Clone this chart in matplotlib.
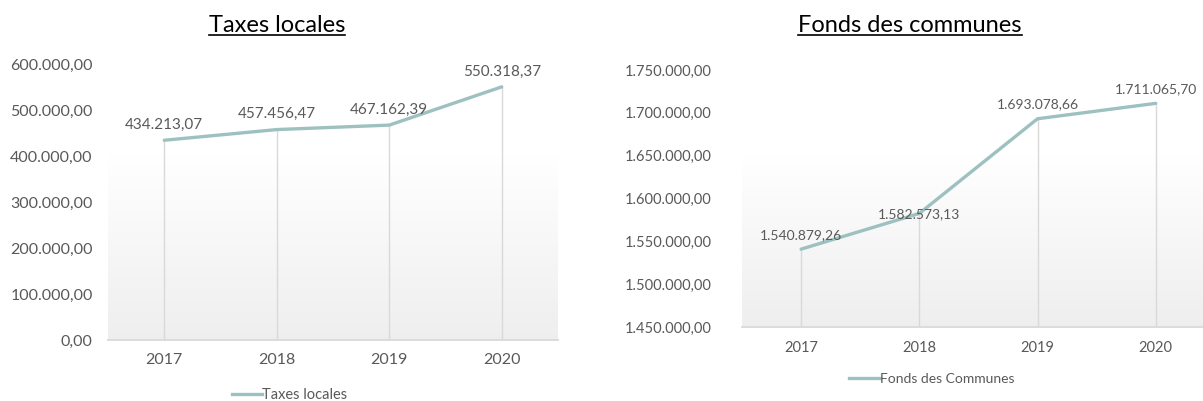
import numpy as np
import matplotlib
matplotlib.use("Agg")
from matplotlib import pyplot as plt
from matplotlib.lines import Line2D

years = ["2017", "2018", "2019", "2020"]
taxes = [434213.07, 457456.47, 467162.39, 550318.37]
fonds = [1540879.26, 1582573.13, 1693078.66, 1711065.70]

taxes_ticks = [0, 100000, 200000, 300000, 400000, 500000, 600000]
fonds_ticks = [1450000, 1500000, 1550000, 1600000, 1650000, 1700000, 1750000]

plt.rcParams['font.family'] = ['Lato', 'DejaVu Sans']

W, H = 1203, 401
LINE = '#9dc1c0'
TXT = '#595959'
GRID = '#d9d9d9'


def eu(v):
    s = '{:,.2f}'.format(v)
    return s.replace(',', 'X').replace('.', ',').replace('X', '.')


def px_axes(fig, x0, x1, ytop, ybot):
    return fig.add_axes([x0 / W, (H - ybot) / H, (x1 - x0) / W, (ybot - ytop) / H])


def gradient(ax, xlim, ylim):
    t = np.linspace(0, 1, 256)
    g = 1 - np.clip((t - 0.33) / 0.67, 0, 1) * 0.065
    img = np.dstack([g, g, g]).reshape(256, 1, 3).repeat(2, axis=1)
    ax.imshow(img, extent=[xlim[0], xlim[1], ylim[0], ylim[1]], aspect='auto',
              zorder=0, interpolation='bilinear')


def draw(ax, vals, ticks, xlim, ylim, tsize, lsize, ypad, xpad, loff):
    x = np.arange(len(years))
    gradient(ax, xlim, ylim)
    ax.vlines(x, ylim[0], vals, color=GRID, lw=1, zorder=1)
    ax.plot(x, vals, color=LINE, lw=2.4, zorder=3, solid_capstyle='round')
    for xi, v in zip(x, vals):
        ax.annotate(eu(v), (xi, v), xytext=(0, loff), textcoords='offset points',
                    ha='center', va='bottom', fontsize=lsize, color=TXT, zorder=4)
    ax.set_xlim(*xlim)
    ax.set_ylim(*ylim)
    ax.set_xticks(x)
    ax.set_xticklabels(years)
    ax.set_yticks(ticks)
    ax.set_yticklabels([eu(t) for t in ticks])
    ax.tick_params(length=0, labelsize=tsize, labelcolor=TXT)
    ax.tick_params(axis='y', pad=ypad)
    ax.tick_params(axis='x', pad=xpad)
    for s in ['top', 'left', 'right']:
        ax.spines[s].set_visible(False)
    ax.spines['bottom'].set_color(GRID)
    ax.spines['bottom'].set_linewidth(1.3)
    ax.set_facecolor('white')


fig = plt.figure(figsize=(W / 100, H / 100), dpi=100)

ax1 = px_axes(fig, 108, 558, 64, 340)
draw(ax1, taxes, taxes_ticks, (-0.5, 3.5), (0, 600000), 11.5, 11, 11, 9, 6)

ax2 = px_axes(fig, 742, 1203, 70, 327)
draw(ax2, fonds, fonds_ticks, (-0.5, 3.4), (1450000, 1750000), 10.5, 10, 22, 10, 6)
# the 2018 label sits on the line in the original
ax2.texts[1].set_position((0, -5))

titles = [("Taxes locales", 277), ("Fonds des communes", 910)]
tobjs = []
for t, xc in titles:
    tobjs.append(fig.text(xc / W, 1 - 25 / H, t, ha='center', va='center',
                          fontsize=17, color='black'))
fig.canvas.draw()
r = fig.canvas.get_renderer()
for tt in tobjs:
    bb = tt.get_window_extent(r)
    yy = (bb.y0 + 1) / H
    fig.add_artist(Line2D([bb.x0 / W, bb.x1 / W], [yy, yy], color='black', lw=1.2))

h = [Line2D([0], [0], color=LINE, lw=2.4)]
fig.legend(h, ["Taxes locales"], loc='center', bbox_to_anchor=(290 / W, 1 - 395 / H),
           frameon=False, fontsize=10.5, labelcolor=TXT, handlelength=2.0,
           handletextpad=0.05)
fig.legend(h, ["Fonds des Communes"], loc='center', bbox_to_anchor=(932 / W, 1 - 379 / H),
           frameon=False, fontsize=10, labelcolor=TXT, handlelength=2.2,
           handletextpad=0.05)

fig.savefig("out.png", dpi=100)
